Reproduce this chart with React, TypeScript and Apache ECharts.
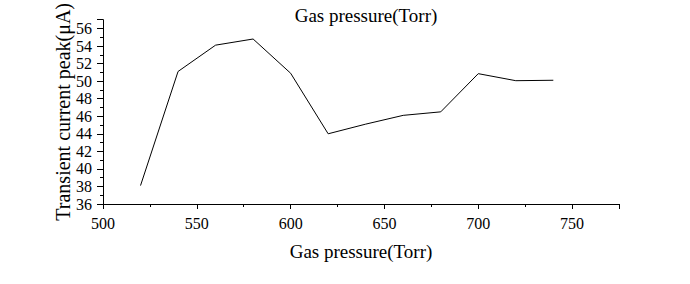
import React, { useEffect, useRef } from "react";
import * as echarts from "echarts";

const pressures = [520, 540, 560, 580, 600, 620, 640, 660, 680, 700, 720, 740];
const peaks = [38.1, 51.1, 54.1, 54.8, 50.9, 44.0, 45.1, 46.1, 46.5, 50.85, 50.05, 50.1];
const titleText = "Gas pressure(Torr)";
const xName = "Gas pressure(Torr)";
const yName = "Transient current peak(μA)";

const FONT = "Liberation Serif";

export default function App() {
  const ref = useRef<HTMLDivElement>(null);
  useEffect(() => {
    if (!ref.current) return;
    const chart = echarts.init(ref.current, undefined, { renderer: "svg" });
    chart.setOption({
      animation: false,
      backgroundColor: "#ffffff",
      title: {
        text: titleText,
        left: 361,
        top: 1,
        textAlign: "center",
        textStyle: { fontFamily: FONT, fontSize: 19, fontWeight: "normal", color: "#000" },
      },
      grid: { left: 103, right: 71, top: 19.5, bottom: 80, containLabel: false },
      xAxis: {
        type: "value",
        min: 500,
        max: 775,
        interval: 50,
        name: xName,
        nameLocation: "middle",
        nameGap: 38,
        nameMoveOverlap: false,
        nameTextStyle: { fontFamily: FONT, fontSize: 19, color: "#000" },
        axisLine: { show: true, onZero: false, lineStyle: { color: "#000", width: 1 } },
        axisTick: { show: true, length: 5, lineStyle: { color: "#000" } },
        minorTick: { show: true, splitNumber: 2, length: 3, lineStyle: { color: "#000" } },
        splitLine: { show: false },
        axisLabel: {
          fontFamily: FONT,
          fontSize: 16,
          color: "#000",
          margin: 11,
          showMaxLabel: false,
        },
      },
      yAxis: {
        type: "value",
        min: 36,
        max: 57,
        interval: 2,
        name: yName,
        nameLocation: "middle",
        nameGap: 30,
        nameMoveOverlap: false,
        nameTextStyle: { fontFamily: FONT, fontSize: 20, color: "#000" },
        axisLine: { show: true, onZero: false, lineStyle: { color: "#000", width: 1 } },
        axisTick: { show: true, length: 6, lineStyle: { color: "#000" } },
        minorTick: { show: true, splitNumber: 2, length: 3, lineStyle: { color: "#000" } },
        splitLine: { show: false },
        axisLabel: {
          fontFamily: FONT,
          fontSize: 16,
          color: "#000",
          margin: 11,
          showMaxLabel: false,
        },
      },
      series: [
        {
          type: "line",
          data: pressures.map((p, i) => [p, peaks[i]]),
          showSymbol: false,
          symbol: "none",
          lineStyle: { color: "#000", width: 1 },
        },
      ],
    });
    return () => chart.dispose();
  }, []);
  return (
    <div
      ref={ref}
      style={{ position: "fixed", left: 0, top: 0, width: 690, height: 284, background: "#fff" }}
    />
  );
}
